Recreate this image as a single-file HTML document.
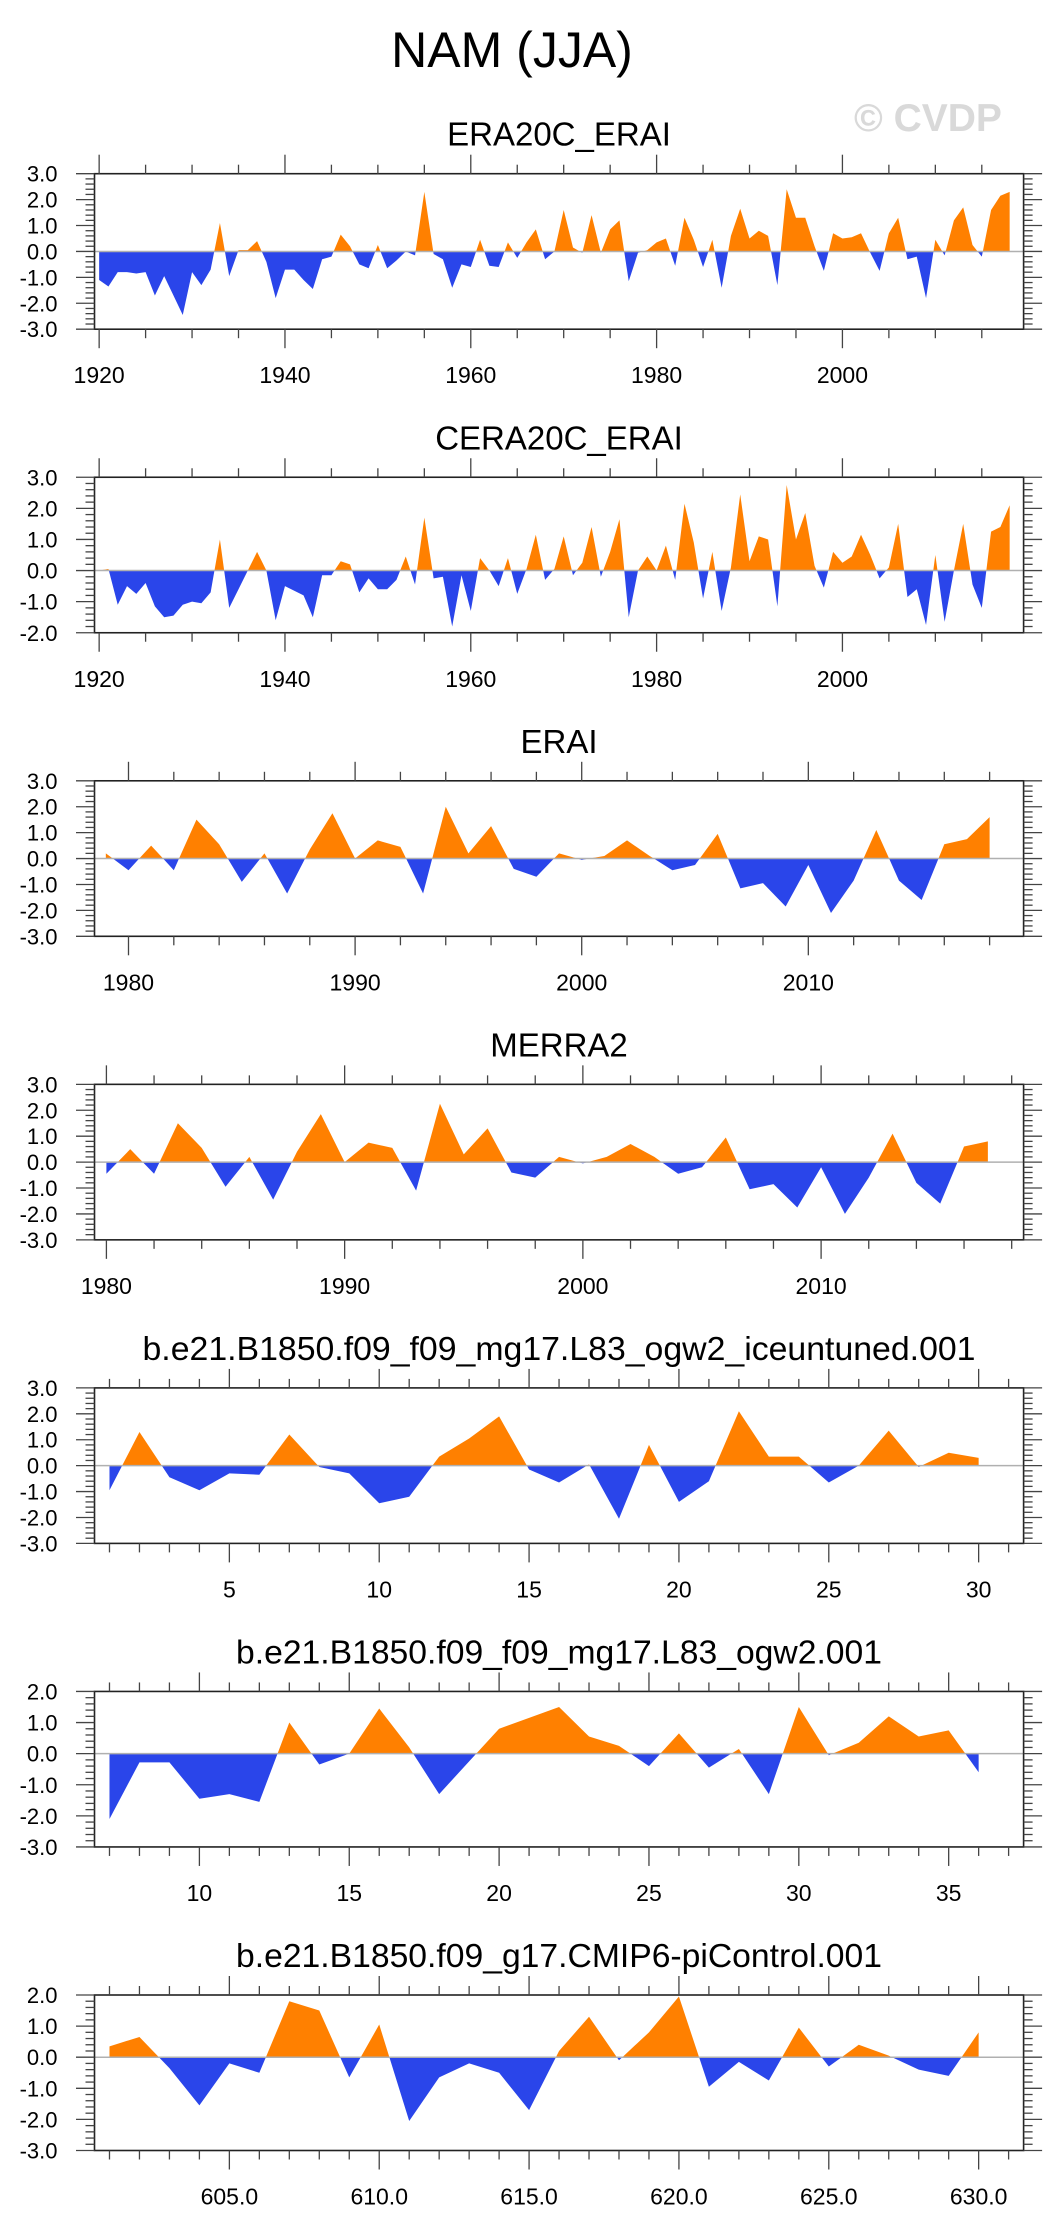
<!DOCTYPE html>
<html><head><meta charset="utf-8"><style>
html,body{margin:0;padding:0;background:#fff;}
svg{display:block;font-family:"Liberation Sans",sans-serif;}
</style></head>
<body>
<svg id="chart" width="1058" height="2235" viewBox="0 0 1058 2235" xmlns="http://www.w3.org/2000/svg">
<rect x="0" y="0" width="1058" height="2235" fill="#fff"/>
<text x="512" y="67" font-size="50" text-anchor="middle" fill="#000">NAM (JJA)</text>
<text x="854" y="131" font-size="39" font-weight="bold" fill="#d9d9d9">© CVDP</text>
</svg>
<script>
// ---- data ----
const p1Title = "ERA20C_ERAI";
const p1Start = 1920;
const p1Values = [-1.1,-1.35,-0.8,-0.8,-0.85,-0.8,-1.7,-0.95,-1.7,-2.45,-0.8,-1.3,-0.7,1.1,-0.95,0.05,0.05,0.4,-0.4,-1.8,-0.7,-0.7,-1.1,-1.45,-0.3,-0.2,0.65,0.2,-0.5,-0.65,0.25,-0.65,-0.35,0.0,-0.15,2.3,-0.1,-0.3,-1.4,-0.5,-0.6,0.45,-0.55,-0.6,0.35,-0.25,0.35,0.85,-0.3,0.0,1.6,0.15,-0.05,1.4,-0.05,0.85,1.2,-1.15,-0.05,0.05,0.35,0.5,-0.55,1.3,0.45,-0.6,0.45,-1.4,0.6,1.65,0.5,0.8,0.6,-1.3,2.4,1.3,1.3,0.2,-0.75,0.7,0.5,0.55,0.7,-0.05,-0.75,0.7,1.3,-0.3,-0.2,-1.8,0.45,-0.15,1.2,1.7,0.25,-0.2,1.6,2.15,2.3];
const p1XTicks = [1920,1940,1960,1980,2000];
const p1XLabels = ["1920","1940","1960","1980","2000"];
const p1YTicks = [-3,-2,-1,0,1,2,3];
const p1YLabels = ["-3.0","-2.0","-1.0","0.0","1.0","2.0","3.0"];

const p2Title = "CERA20C_ERAI";
const p2Start = 1920;
const p2Values = [0.0,0.05,-1.1,-0.5,-0.75,-0.4,-1.15,-1.5,-1.45,-1.1,-1.0,-1.05,-0.7,1.0,-1.2,-0.6,0.0,0.6,0.0,-1.6,-0.5,-0.65,-0.8,-1.5,-0.15,-0.15,0.3,0.2,-0.7,-0.25,-0.6,-0.6,-0.3,0.45,-0.45,1.7,-0.25,-0.2,-1.8,-0.15,-1.3,0.4,0.0,-0.5,0.4,-0.75,0.05,1.15,-0.3,0.05,1.1,-0.15,0.25,1.4,-0.2,0.6,1.65,-1.5,0.0,0.45,0.0,0.8,-0.3,2.15,0.9,-0.9,0.6,-1.3,0.1,2.45,0.3,1.1,1.0,-1.15,2.75,1.0,1.85,0.15,-0.55,0.6,0.25,0.45,1.15,0.5,-0.25,0.1,1.5,-0.85,-0.6,-1.75,0.5,-1.65,0.0,1.5,-0.45,-1.2,1.25,1.4,2.1];
const p2XTicks = [1920,1940,1960,1980,2000];
const p2XLabels = ["1920","1940","1960","1980","2000"];
const p2YTicks = [-2,-1,0,1,2,3];
const p2YLabels = ["-2.0","-1.0","0.0","1.0","2.0","3.0"];

const p3Title = "ERAI";
const p3Start = 1979;
const p3Values = [0.2,-0.45,0.5,-0.45,1.5,0.55,-0.9,0.2,-1.35,0.35,1.75,0.0,0.7,0.45,-1.35,2.0,0.2,1.25,-0.4,-0.7,0.2,-0.05,0.1,0.7,0.1,-0.45,-0.25,0.95,-1.15,-0.95,-1.85,-0.25,-2.1,-0.85,1.1,-0.85,-1.6,0.55,0.75,1.6];
const p3XTicks = [1980,1990,2000,2010];
const p3XLabels = ["1980","1990","2000","2010"];
const p3YTicks = [-3,-2,-1,0,1,2,3];
const p3YLabels = ["-3.0","-2.0","-1.0","0.0","1.0","2.0","3.0"];

const p4Title = "MERRA2";
const p4Start = 1980;
const p4Values = [-0.45,0.5,-0.45,1.5,0.55,-0.95,0.2,-1.45,0.4,1.85,0.0,0.75,0.55,-1.1,2.25,0.3,1.3,-0.4,-0.6,0.2,-0.05,0.2,0.7,0.2,-0.45,-0.2,0.95,-1.05,-0.85,-1.75,-0.2,-2.0,-0.6,1.1,-0.8,-1.6,0.6,0.8];
const p4XTicks = [1980,1990,2000,2010];
const p4XLabels = ["1980","1990","2000","2010"];
const p4YTicks = [-3,-2,-1,0,1,2,3];
const p4YLabels = ["-3.0","-2.0","-1.0","0.0","1.0","2.0","3.0"];

const p5Title = "b.e21.B1850.f09_f09_mg17.L83_ogw2_iceuntuned.001";
const p5Start = 1;
const p5Values = [-0.95,1.3,-0.45,-0.95,-0.3,-0.35,1.2,-0.05,-0.3,-1.45,-1.2,0.35,1.05,1.9,-0.15,-0.65,0.05,-2.05,0.8,-1.4,-0.6,2.1,0.35,0.35,-0.65,0.0,1.35,-0.05,0.5,0.3];
const p5XTicks = [5,10,15,20,25,30];
const p5XLabels = ["5","10","15","20","25","30"];
const p5YTicks = [-3,-2,-1,0,1,2,3];
const p5YLabels = ["-3.0","-2.0","-1.0","0.0","1.0","2.0","3.0"];

const p6Title = "b.e21.B1850.f09_f09_mg17.L83_ogw2.001";
const p6Start = 7;
const p6Values = [-2.1,-0.28,-0.28,-1.45,-1.3,-1.55,1.0,-0.35,0.0,1.45,0.2,-1.3,-0.25,0.8,1.15,1.5,0.55,0.25,-0.4,0.65,-0.45,0.15,-1.3,1.5,-0.05,0.35,1.2,0.55,0.75,-0.6];
const p6XTicks = [10,15,20,25,30,35];
const p6XLabels = ["10","15","20","25","30","35"];
const p6YTicks = [-3,-2,-1,0,1,2];
const p6YLabels = ["-3.0","-2.0","-1.0","0.0","1.0","2.0"];

const p7Title = "b.e21.B1850.f09_g17.CMIP6-piControl.001";
const p7Start = 601;
const p7Values = [0.35,0.65,-0.35,-1.55,-0.2,-0.5,1.8,1.5,-0.65,1.05,-2.05,-0.65,-0.2,-0.5,-1.7,0.2,1.3,-0.1,0.8,1.95,-0.95,-0.15,-0.75,0.95,-0.3,0.4,0.05,-0.4,-0.6,0.8];
const p7XTicks = [605,610,615,620,625,630];
const p7XLabels = ["605.0","610.0","615.0","620.0","625.0","630.0"];
const p7YTicks = [-3,-2,-1,0,1,2];
const p7YLabels = ["-3.0","-2.0","-1.0","0.0","1.0","2.0"];

// ---- layout ----
const NS = "http://www.w3.org/2000/svg";
const svg = document.getElementById("chart");
const BOX_L = 94.5, BOX_R = 1023.6, BOX_H = 155.5, TOP0 = 173.7, STEP = 303.55;
const ORANGE = "#ff8000", BLUE = "#2a45ea";

function mk(tag, attrs, parent) {
  const e = document.createElementNS(NS, tag);
  for (const k in attrs) e.setAttribute(k, attrs[k]);
  (parent || svg).appendChild(e);
  return e;
}

const panels = [
  {t:p1Title, s:p1Start, v:p1Values, xt:p1XTicks, xl:p1XLabels, yt:p1YTicks, yl:p1YLabels, xmin:1919.5, xmax:2019.5, minor:5, ymin:-3, ymax:3, name:"era20c-erai"},
  {t:p2Title, s:p2Start, v:p2Values, xt:p2XTicks, xl:p2XLabels, yt:p2YTicks, yl:p2YLabels, xmin:1919.5, xmax:2019.5, minor:5, ymin:-2, ymax:3, name:"cera20c-erai"},
  {t:p3Title, s:p3Start, v:p3Values, xt:p3XTicks, xl:p3XLabels, yt:p3YTicks, yl:p3YLabels, xmin:1978.5, xmax:2019.5, minor:2, ymin:-3, ymax:3, name:"erai"},
  {t:p4Title, s:p4Start, v:p4Values, xt:p4XTicks, xl:p4XLabels, yt:p4YTicks, yl:p4YLabels, xmin:1979.5, xmax:2018.5, minor:2, ymin:-3, ymax:3, name:"merra2"},
  {t:p5Title, s:p5Start, v:p5Values, xt:p5XTicks, xl:p5XLabels, yt:p5YTicks, yl:p5YLabels, xmin:0.5, xmax:31.5, minor:1, ymin:-3, ymax:3, name:"ogw2-iceuntuned", tl:833},
  {t:p6Title, s:p6Start, v:p6Values, xt:p6XTicks, xl:p6XLabels, yt:p6YTicks, yl:p6YLabels, xmin:6.5, xmax:37.5, minor:1, ymin:-3, ymax:2, name:"ogw2", tl:646},
  {t:p7Title, s:p7Start, v:p7Values, xt:p7XTicks, xl:p7XLabels, yt:p7YTicks, yl:p7YLabels, xmin:600.5, xmax:631.5, minor:1, ymin:-3, ymax:2, name:"cmip6-picontrol", tl:646}
];

panels.forEach((p, i) => {
  const top = TOP0 + i * STEP, bot = top + BOX_H;
  const g = mk("g", {});
  
  
  const X = v => BOX_L + (v - p.xmin) / (p.xmax - p.xmin) * (BOX_R - BOX_L);
  const Y = v => bot - (v - p.ymin) / (p.ymax - p.ymin) * BOX_H;
  const y0 = Y(0);

  // title
  const tt = mk("text", {x:559, y:top - 28, "font-size":33, "text-anchor":"middle", fill:"#000"}, g);
  if (p.tl) { tt.setAttribute("textLength", p.tl); tt.setAttribute("lengthAdjust", "spacingAndGlyphs"); }
  tt.textContent = p.t;
  
  

  // build points with zero crossings
  const pts = p.v.map((v, k) => [X(p.s + k), v]);
  const seq = [];
  for (let k = 0; k < pts.length; k++) {
    seq.push(pts[k]);
    if (k < pts.length - 1) {
      const a = pts[k], b = pts[k + 1];
      if ((a[1] > 0 && b[1] < 0) || (a[1] < 0 && b[1] > 0)) {
        const f = a[1] / (a[1] - b[1]);
        seq.push([a[0] + f * (b[0] - a[0]), 0]);
      }
    }
  }
  const poly = (clamp) => {
    let d = "M" + seq[0][0].toFixed(2) + "," + y0.toFixed(2);
    seq.forEach(q => { d += "L" + q[0].toFixed(2) + "," + Y(clamp(q[1])).toFixed(2); });
    d += "L" + seq[seq.length - 1][0].toFixed(2) + "," + y0.toFixed(2) + "Z";
    return d;
  };
  const pos = mk("path", {d: poly(v => Math.max(v, 0)), fill: ORANGE}, g);
  
  
  const neg = mk("path", {d: poly(v => Math.min(v, 0)), fill: BLUE}, g);
  
  

  // zero line
  const zl = mk("line", {x1:BOX_L, x2:BOX_R, y1:y0, y2:y0, stroke:"#b0b0b0", "stroke-width":1.5}, g);
  
  

  // box
  const bx = mk("rect", {x:BOX_L, y:top, width:BOX_R - BOX_L, height:BOX_H, fill:"none", stroke:"#222", "stroke-width":1.6}, g);
  
  

  // x ticks
  const tickG = mk("g", {stroke:"#444", "stroke-width":1.3}, g);
  
  
  const first = Math.ceil(p.xmin / p.minor) * p.minor;
  for (let v = first; v <= p.xmax; v += p.minor) {
    const x = X(v), maj = p.xt.indexOf(v) >= 0, L = maj ? 19 : 9;
    mk("line", {x1:x, x2:x, y1:top, y2:top - L}, tickG);
    mk("line", {x1:x, x2:x, y1:bot, y2:bot + L}, tickG);
  }
  // y ticks
  for (let v10 = Math.round(p.ymin * 10); v10 <= Math.round(p.ymax * 10); v10 += 2) {
    const y = Y(v10 / 10), maj = v10 % 10 === 0, L = maj ? 18.5 : 9;
    mk("line", {x1:BOX_L, x2:BOX_L - L, y1:y, y2:y}, tickG);
    mk("line", {x1:BOX_R, x2:BOX_R + L, y1:y, y2:y}, tickG);
  }
  // x labels
  p.xt.forEach((v, k) => {
    const t = mk("text", {x:X(v), y:top + 209.5, "font-size":23, "text-anchor":"middle", fill:"#000"}, g);
    t.textContent = p.xl[k];
    
    
  });
  // y labels
  p.yt.forEach((v, k) => {
    const t = mk("text", {x:57.5, y:Y(v) + 8, "font-size":22, "text-anchor":"end", fill:"#000"}, g);
    t.textContent = p.yl[k];
    
    
  });
});
</script>
</body></html>
